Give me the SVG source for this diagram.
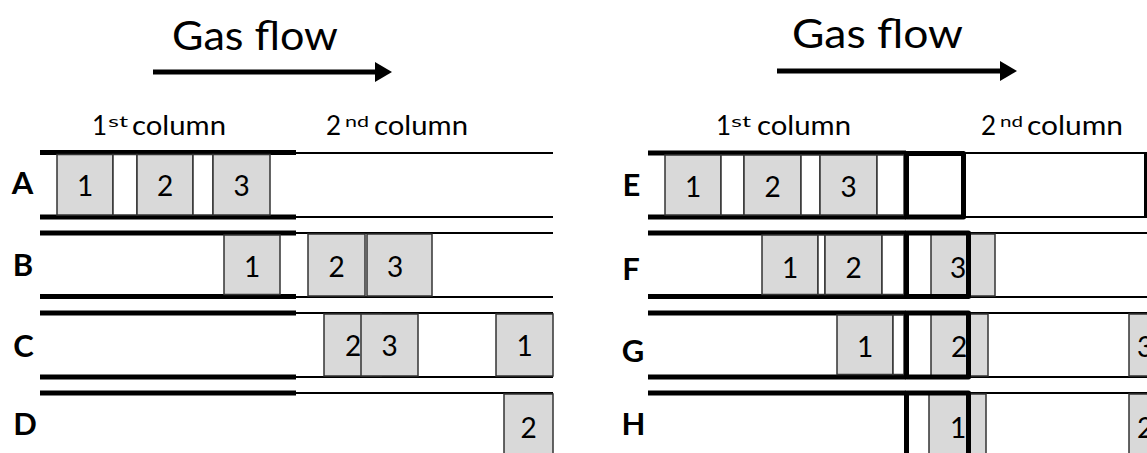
<svg xmlns="http://www.w3.org/2000/svg" width="1147" height="453" viewBox="0 0 1147 453">
  <style>
    .title { font-family: Lato, "Liberation Sans", sans-serif; font-size: 40px; fill: #000; }
    .head { font-family: Lato, "Liberation Sans", sans-serif; font-size: 26px; fill: #000; }
    .sup { font-family: Lato, "Liberation Sans", sans-serif; font-size: 15px; fill: #000; }
    .row { font-family: Lato, "Liberation Sans", sans-serif; font-size: 31px; font-weight: bold; fill: #000; text-anchor: middle; }
    .num { font-family: Lato, "Liberation Sans", sans-serif; font-size: 28px; fill: #000; text-anchor: middle; }
    .wall { stroke: #000; stroke-width: 5; fill: none; }
    .tube { stroke: #000; stroke-width: 2; fill: none; }
    .band { fill: #d9d9d9; stroke: #333; stroke-width: 1.5; }
    .gap { fill: #fff; stroke: #333; stroke-width: 1.5; }
    .joint { fill: none; stroke: #000; stroke-width: 5; stroke-linejoin: round; }
    .flow { stroke: #000; stroke-width: 5; fill: none; }
  </style>
  <defs>
    <marker id="head" viewBox="0 0 17 20" refX="0" refY="10" markerWidth="17" markerHeight="20" markerUnits="userSpaceOnUse" orient="auto">
      <path d="M0,0 L17,10 L0,20 Z" fill="#000"/>
    </marker>
  </defs>

  <!-- ===== Left scheme: two columns joined directly ===== -->
  <g id="left-header">
    <text class="title" x="172" y="50" textLength="166" lengthAdjust="spacingAndGlyphs">Gas flow</text>
    <line class="flow" x1="153" y1="72" x2="375" y2="72" marker-end="url(#head)"/>
    <text class="head" x="92" y="135">1</text>
    <text class="sup" x="108" y="127" textLength="20" lengthAdjust="spacingAndGlyphs">st</text>
    <text class="head" x="132" y="135" textLength="94" lengthAdjust="spacingAndGlyphs">column</text>
    <text class="head" x="326" y="135">2</text>
    <text class="sup" x="345" y="127" textLength="24" lengthAdjust="spacingAndGlyphs">nd</text>
    <text class="head" x="374" y="135" textLength="94" lengthAdjust="spacingAndGlyphs">column</text>
  </g>

  <g id="connectors">
    <!-- first column walls (left) -->
    <line class="wall" x1="40" y1="152.5" x2="296" y2="152.5"/>
    <line class="wall" x1="40" y1="217" x2="296" y2="217"/>
    <line class="wall" x1="40" y1="233" x2="296" y2="233"/>
    <line class="wall" x1="40" y1="296.5" x2="296" y2="296.5"/>
    <line class="wall" x1="40" y1="313" x2="296" y2="313"/>
    <line class="wall" x1="40" y1="377" x2="296" y2="377"/>
    <line class="wall" x1="40" y1="393" x2="296" y2="393"/>
    <!-- second column walls (left) -->
    <line class="tube" x1="296" y1="153" x2="553" y2="153"/>
    <line class="tube" x1="296" y1="217" x2="553" y2="217"/>
    <line class="tube" x1="296" y1="233" x2="553" y2="233"/>
    <line class="tube" x1="296" y1="297" x2="553" y2="297"/>
    <line class="tube" x1="296" y1="313" x2="553" y2="313"/>
    <line class="tube" x1="296" y1="377" x2="553" y2="377"/>
    <line class="tube" x1="296" y1="393" x2="553" y2="393"/>

    <!-- first column walls (right) -->
    <line class="wall" x1="648" y1="153" x2="906" y2="153"/>
    <line class="wall" x1="648" y1="217" x2="906" y2="217"/>
    <line class="wall" x1="648" y1="233" x2="906" y2="233"/>
    <line class="wall" x1="648" y1="296.5" x2="906" y2="296.5"/>
    <line class="wall" x1="648" y1="313" x2="906" y2="313"/>
    <line class="wall" x1="648" y1="377" x2="906" y2="377"/>
    <line class="wall" x1="648" y1="393" x2="906" y2="393"/>
    <!-- second column walls (right) -->
    <line class="tube" x1="964" y1="153" x2="1147" y2="153"/>
    <line class="tube" x1="964" y1="217" x2="1147" y2="217"/>
    <line class="tube" x1="969" y1="233" x2="1147" y2="233"/>
    <line class="tube" x1="969" y1="297" x2="1147" y2="297"/>
    <line class="tube" x1="969" y1="313" x2="1147" y2="313"/>
    <line class="tube" x1="969" y1="377" x2="1147" y2="377"/>
    <line class="tube" x1="969" y1="393" x2="1147" y2="393"/>
  </g>

  <g id="row-A">
    <text class="row" x="22.5" y="194">A</text>
    <rect class="band" x="57" y="154.5" width="56" height="60.5"/>
    <rect class="gap" x="113" y="154.5" width="24" height="60.5"/>
    <rect class="band" x="137" y="154.5" width="56" height="60.5"/>
    <rect class="gap" x="193" y="154.5" width="20" height="60.5"/>
    <rect class="band" x="213" y="154.5" width="57" height="60.5"/>
    <text class="num" x="85" y="196">1</text>
    <text class="num" x="165" y="196">2</text>
    <text class="num" x="241.5" y="196">3</text>
  </g>

  <g id="row-B">
    <text class="row" x="23" y="276">B</text>
    <rect class="band" x="224" y="235" width="56" height="59.5"/>
    <rect class="band" x="308" y="234" width="57" height="62"/>
    <rect class="band" x="367" y="234" width="65" height="62"/>
    <text class="num" x="252" y="277">1</text>
    <text class="num" x="336.5" y="277">2</text>
    <text class="num" x="395" y="277">3</text>
  </g>

  <g id="row-C">
    <text class="row" x="23.5" y="357">C</text>
    <rect class="band" x="324" y="314" width="57" height="62"/>
    <text class="num" x="353" y="356">2</text>
    <rect class="band" x="361" y="314" width="57" height="62"/>
    <text class="num" x="389.5" y="356">3</text>
    <rect class="band" x="496" y="314" width="57" height="62"/>
    <text class="num" x="524.5" y="356">1</text>
  </g>

  <g id="row-D">
    <text class="row" x="25" y="435">D</text>
    <rect class="band" x="504" y="394" width="49" height="64"/>
    <text class="num" x="528.5" y="438">2</text>
  </g>

  <!-- ===== Right scheme: two columns joined by a union ===== -->
  <g id="right-header">
    <text class="title" x="792" y="48" textLength="171" lengthAdjust="spacingAndGlyphs">Gas flow</text>
    <line class="flow" x1="777" y1="71" x2="1000" y2="71" marker-end="url(#head)"/>
    <text class="head" x="716" y="135">1</text>
    <text class="sup" x="731" y="127" textLength="20" lengthAdjust="spacingAndGlyphs">st</text>
    <text class="head" x="757" y="135" textLength="94" lengthAdjust="spacingAndGlyphs">column</text>
    <text class="head" x="981" y="135">2</text>
    <text class="sup" x="1000" y="127" textLength="23" lengthAdjust="spacingAndGlyphs">nd</text>
    <text class="head" x="1027" y="135" textLength="96" lengthAdjust="spacingAndGlyphs">column</text>
  </g>

  <g id="row-E">
    <text class="row" x="631.5" y="196">E</text>
    <rect class="band" x="665" y="155" width="56" height="60"/>
    <rect class="gap" x="721" y="155" width="23" height="60"/>
    <rect class="band" x="744" y="155" width="57" height="60"/>
    <rect class="gap" x="801" y="155" width="19" height="60"/>
    <rect class="band" x="820" y="155" width="57" height="60"/>
    <rect class="gap" x="877" y="155" width="27" height="60"/>
    <text class="num" x="693" y="197">1</text>
    <text class="num" x="772.5" y="197">2</text>
    <text class="num" x="848.5" y="197">3</text>
    <rect class="joint" x="906.5" y="153.5" width="57" height="63.5"/>
    <line class="tube" x1="1145.5" y1="152" x2="1145.5" y2="218" style="stroke-width:3"/>
  </g>

  <g id="row-F">
    <text class="row" x="631" y="280">F</text>
    <rect class="band" x="762" y="235" width="56" height="59.5"/>
    <rect class="gap" x="818" y="235" width="7" height="59.5"/>
    <rect class="band" x="825" y="235" width="57" height="59.5"/>
    <rect class="gap" x="882" y="235" width="22" height="59.5"/>
    <rect class="band" x="931" y="234" width="64" height="62"/>
    <text class="num" x="790" y="278">1</text>
    <text class="num" x="853.5" y="278">2</text>
    <text class="num" x="958" y="278">3</text>
    <rect class="joint" x="906.5" y="233" width="62" height="63.5"/>
  </g>

  <g id="row-G">
    <text class="row" x="633" y="362">G</text>
    <rect class="band" x="837" y="315" width="56" height="59.5"/>
    <rect class="gap" x="893" y="315" width="11" height="59.5"/>
    <rect class="band" x="931" y="314" width="57" height="62"/>
    <rect class="band" x="1129" y="314" width="40" height="62"/>
    <text class="num" x="865" y="357">1</text>
    <text class="num" x="959" y="357">2</text>
    <text class="num" x="1145" y="357">3</text>
    <rect class="joint" x="906.5" y="313" width="62" height="64"/>
  </g>

  <g id="row-H">
    <text class="row" x="633.5" y="435">H</text>
    <rect class="band" x="929" y="394" width="57" height="64"/>
    <rect class="band" x="1129" y="394" width="40" height="64"/>
    <text class="num" x="958" y="438">1</text>
    <text class="num" x="1145" y="438">2</text>
    <path class="joint" d="M906.5,456 V393 H968.5 V456"/>
  </g>
</svg>
